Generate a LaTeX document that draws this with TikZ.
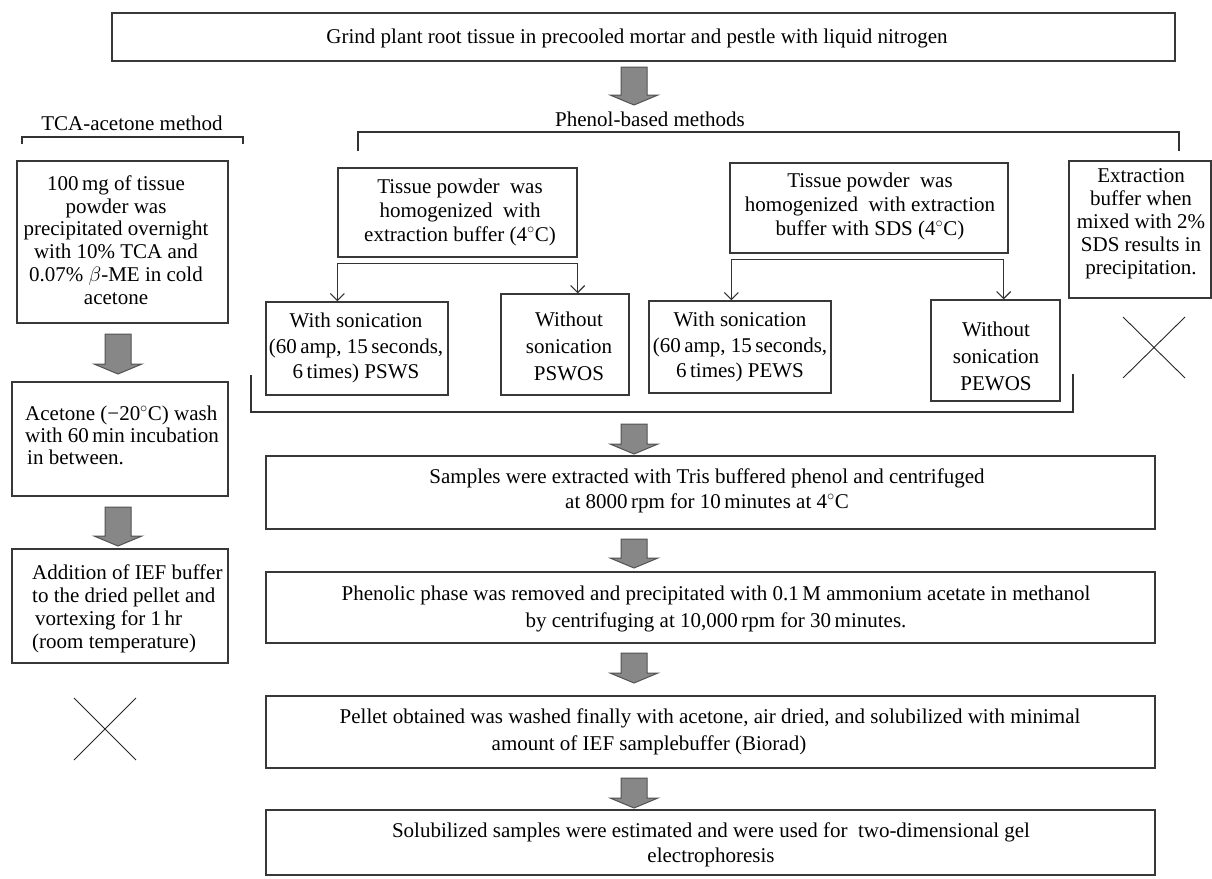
\documentclass[tikz,border=0pt]{standalone}
\usepackage{fontspec}
\setmainfont{Liberation Serif}
\usetikzlibrary{arrows.meta,calc}
\begin{document}
\begin{tikzpicture}[x=1pt,y=-1pt,
  frame/.style={draw=black!78, line width=1.3pt, inner sep=0pt, fill=none},
  txt/.style={font=\fontsize{21}{#1}\selectfont, align=center, inner sep=0pt, text=black},
  txt/.default=23,
  conn/.style={draw=black!80, line width=1.1pt},
  arr/.style={conn, -{Straight Barb[length=7pt,width=14pt]}},
  cross/.style={draw=black!85, line width=0.9pt},
  blockarrow/.style={fill=black!47, draw=black!68, line width=1pt},
  garrow/.pic={\draw[blockarrow] (-13,0) -- (13,0) -- (13,#1) -- (24,#1) -- (0,#1+10) -- (-24,#1) -- (-13,#1) -- cycle;}
]
\useasboundingbox (0,0) rectangle (1212,878);

% ---------- frames ----------
\node[frame, minimum width=1063pt, minimum height=48pt] (top) at (643.5,37) {};
\node[frame, minimum width=211pt, minimum height=162pt] (tca1) at (122.5,242) {};
\node[frame, minimum width=216pt, minimum height=114pt] (acet) at (120,439) {};
\node[frame, minimum width=216pt, minimum height=114pt] (addn) at (120,606) {};
\node[frame, minimum width=239pt, minimum height=89pt] (tis1) at (457.5,212.5) {};
\node[frame, minimum width=182pt, minimum height=93pt] (psws) at (357,348.5) {};
\node[frame, minimum width=128pt, minimum height=101pt] (psows) at (565,344.5) {};
\node[frame, minimum width=278pt, minimum height=90pt] (tis2) at (869,208) {};
\node[frame, minimum width=182pt, minimum height=92pt] (pews) at (740,347) {};
\node[frame, minimum width=129pt, minimum height=101pt] (pewos) at (995.5,350.5) {};
\node[frame, minimum width=142pt, minimum height=137pt] (extr) at (1140,229.5) {};
\node[frame, minimum width=889pt, minimum height=73pt] (samp) at (710.5,492.5) {};
\node[frame, minimum width=889pt, minimum height=71pt] (phen) at (710.5,607.5) {};
\node[frame, minimum width=889pt, minimum height=72pt] (pell) at (710.5,732) {};
\node[frame, minimum width=889pt, minimum height=65pt] (solu) at (710.5,842.5) {};

% ---------- texts ----------
\node[txt] (ttop) at (637,38) {Grind plant root tissue in precooled mortar and pestle with liquid nitrogen};
\node[txt] (tphen) at (650,119) {Phenol-based methods};
\node[txt] (ttca) at (132,123) {TCA-acetone method};
\node[txt=22.8] (ttca1) at (116,240) {100\,mg of tissue\\powder was\\precipitated overnight\\with 10\% TCA and\\0.07\% $\beta$-ME in cold\\acetone};
\node[txt=22, align=left, anchor=west] (tacet) at (25,435) {Acetone (−20$^\circ$C) wash\\with 60\,min incubation\\\hspace*{2pt}in between.};
\node[txt=23, align=left, anchor=west] (taddn) at (32,608.5) {Addition of IEF buffer\\to the dried pellet and\\\hspace*{3pt}vortexing for 1\,hr\\(room temperature)};
\node[txt=24] (ttis1) at (460,212) {Tissue powder\ \ was\\homogenized\ \ with\\extraction buffer (4$^\circ$C)};
\node[txt=25.5] (tpsws) at (356,348) {With sonication\\(60\,amp, 15\,seconds,\\6\,times) PSWS};
\node[txt=27] (tpsows) at (569,346) {Without\\sonication\\PSWOS};
\node[txt=24] (ttis2) at (870,206) {Tissue powder\ \ was\\homogenized\ \ with extraction\\buffer with SDS (4$^\circ$C)};
\node[txt=25.5] (tpews) at (740,347) {With sonication\\(60\,amp, 15\,seconds,\\6\,times) PEWS};
\node[txt=27] (tpewos) at (996,356) {Without\\sonication\\PEWOS};
\node[txt=23] (textr) at (1141,224) {Extraction\\buffer when\\mixed with 2\%\\SDS results in\\precipitation.};
\node[txt=25] (tsamp) at (707,490.5) {Samples were extracted with Tris buffered phenol and centrifuged\\at 8000\,rpm for 10\,minutes at 4$^\circ$C};
\node[txt=27] (tphenol) at (716,608.5) {Phenolic phase was removed and precipitated with 0.1\,M ammonium acetate in methanol\\by centrifuging at 10,000\,rpm for 30\,minutes.};
\node[txt=27] (tpell) at (710,731.5) {Pellet obtained was washed finally with acetone, air dried, and solubilized with minimal\\amount of IEF samplebuffer (Biorad)\hspace*{122pt}};
\node[txt=25] (tsolu) at (711,844.5) {Solubilized samples were estimated and were used for\ \ two-dimensional gel\\electrophoresis};

% ---------- brackets ----------
\draw[conn] (22,144) -- (22,137) -- (243,137) -- (243,144);
\draw[conn] (358,151) -- (358,132) -- (1179,132) -- (1179,151);
\draw[conn] (251,375) -- (251,412) -- (1073,412) -- (1073,374);

% ---------- connectors ----------
\draw[conn] ([yshift=-6pt]tis1.south west) -- ([yshift=-6pt]tis1.south east);
\draw[arr] ([yshift=-6pt]tis1.south west) -- (tis1.south west |- psws.north);
\draw[arr] ([yshift=-6pt]tis1.south east) -- (tis1.south east |- psows.north);
\coordinate (t2l) at ([xshift=2pt,yshift=-6pt]tis2.south west);
\coordinate (t2r) at ([xshift=-5pt,yshift=-6pt]tis2.south east);
\draw[conn] (t2l) -- (t2r);
\draw[arr] (t2l) -- (t2l |- pews.north);
\draw[arr] (t2r) -- (t2r |- pewos.north);

% ---------- block arrows ----------
\pic at (634,67) {garrow=28};
\pic at (118,334) {garrow=30};
\pic at (118,507) {garrow=29};
\pic at (634,424) {garrow=20};
\pic at (634,539) {garrow=19};
\pic at (634,653) {garrow=20};
\pic at (634,778) {garrow=20};

% ---------- crosses ----------
\draw[cross] (74,698) -- (136,760) (74,760) -- (136,698);
\draw[cross] (1123,317) -- (1185,378) (1123,378) -- (1185,317);
\end{tikzpicture}
\end{document}
